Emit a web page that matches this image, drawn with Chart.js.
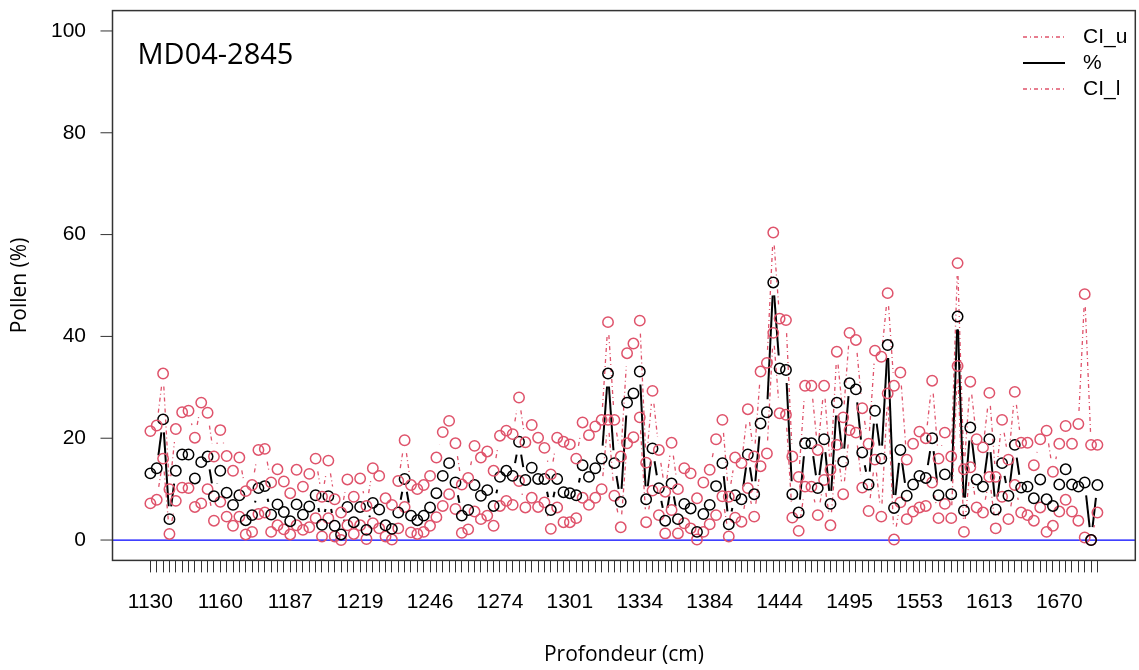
<!DOCTYPE html>
<html>
<head>
<meta charset="utf-8">
<script src="https://cdn.jsdelivr.net/npm/chart.js@4.4.1/dist/chart.umd.min.js"></script>
<style>
  html, body { margin: 0; padding: 0; overflow: hidden; background: #ffffff; }
  canvas { display: block; }
</style>
</head>
<body>
<canvas id="pollenChart" width="1142" height="670"></canvas>
<script>
// Core depth labels shown on the x axis (one every 11 samples)
const depthTicks = ['1130', '1160', '1187', '1219', '1246', '1274', '1301',
                    '1334', '1384', '1444', '1495', '1553', '1613', '1670'];
const tickEvery = 11;

// Pollen percentage per sample
const pct = [
  13.1, 14.1, 23.7, 4.1, 13.6, 16.8, 16.8, 12.1, 15.3, 16.4,
  8.6, 13.6, 9.3, 6.9, 8.8, 3.9, 4.9, 10.2, 10.6, 5.0,
  7.0, 5.5, 3.7, 7.0, 5.0, 6.6, 8.8, 3.0, 8.6, 2.8,
  1.1, 6.5, 3.5, 6.5, 2.0, 7.3, 6.0, 2.9, 2.2, 5.4,
  12.0, 4.8, 3.9, 4.8, 6.4, 9.2, 12.6, 15.1, 11.3, 4.8,
  5.9, 10.8, 8.7, 9.8, 6.7, 12.4, 13.6, 12.6, 19.3, 11.8,
  14.2, 12.0, 12.0, 5.9, 12.0, 9.4, 9.2, 8.8, 14.7, 12.4,
  14.1, 16.0, 32.7, 15.1, 7.5, 27.0, 28.8, 33.1, 8.0, 18.0,
  10.2, 3.8, 11.1, 4.1, 7.1, 6.2, 1.6, 5.1, 6.9, 10.6,
  15.1, 3.1, 8.8, 8.0, 16.8, 9.0, 22.9, 25.1, 50.6, 33.7,
  33.4, 9.0, 5.4, 19.0, 19.0, 10.2, 19.8, 7.1, 27.0, 15.4,
  30.8, 29.6, 17.2, 10.9, 25.4, 16.0, 38.3, 6.3, 17.7, 8.7,
  10.9, 12.6, 12.2, 20.0, 8.8, 12.9, 9.0, 43.9, 5.8, 22.1,
  11.9, 10.5, 19.8, 6.0, 15.1, 8.7, 18.7, 10.3, 10.5, 8.2,
  11.9, 8.0, 6.7, 10.9, 13.9, 10.9, 10.5, 11.3, 0.0, 10.8
];

// Upper confidence limit
const ciUpper = [
  21.4, 22.5, 32.7, 10.0, 21.8, 25.1, 25.4, 20.1, 27.0, 25.0,
  16.4, 21.6, 16.5, 13.6, 16.2, 9.6, 10.8, 17.7, 17.9, 11.3,
  13.9, 11.5, 9.2, 13.8, 10.5, 13.0, 16.0, 8.5, 15.6, 8.0,
  5.4, 11.9, 8.5, 12.1, 6.7, 14.1, 12.6, 8.2, 6.9, 11.6,
  19.6, 10.8, 10.0, 10.8, 12.6, 16.2, 21.2, 23.4, 19.0, 10.9,
  12.2, 18.5, 16.2, 17.4, 13.6, 20.5, 21.5, 20.8, 28.0, 19.2,
  22.6, 20.1, 18.1, 12.9, 20.1, 19.3, 18.8, 16.0, 23.1, 20.6,
  22.3, 23.6, 42.8, 23.6, 16.4, 36.7, 38.6, 43.1, 15.2, 29.3,
  17.7, 9.5, 19.1, 10.0, 14.1, 13.1, 8.2, 11.3, 13.8, 19.8,
  23.6, 8.5, 16.2, 15.1, 25.7, 16.4, 33.1, 34.8, 60.4, 43.5,
  43.2, 16.4, 12.4, 30.3, 30.3, 17.7, 30.3, 13.8, 37.0, 24.1,
  40.7, 39.3, 25.9, 18.9, 37.2, 36.0, 48.5, 30.3, 32.9, 15.8,
  18.9, 21.3, 20.0, 31.3, 16.0, 21.1, 16.4, 54.4, 13.9, 31.1,
  19.8, 18.2, 28.9, 12.4, 23.6, 15.8, 29.1, 19.1, 19.1, 14.7,
  19.8, 21.5, 13.4, 18.9, 22.4, 18.9, 22.8, 48.3, 18.7, 18.7
];

// Lower confidence limit
const ciLower = [
  7.2, 7.9, 16.0, 1.2, 7.7, 10.3, 10.2, 6.5, 7.2, 10.0,
  3.8, 7.5, 4.6, 2.8, 4.6, 1.1, 1.6, 5.1, 5.4, 1.6,
  2.9, 2.1, 1.1, 2.9, 2.0, 2.5, 4.3, 0.7, 4.3, 0.7,
  0.0, 2.9, 1.2, 2.9, 0.2, 3.3, 2.3, 0.7, 0.1, 2.3,
  6.5, 1.5, 1.2, 1.6, 2.8, 4.5, 6.7, 9.0, 6.1, 1.4,
  2.1, 5.6, 4.1, 4.8, 2.8, 6.7, 7.7, 6.9, 11.6, 6.4,
  8.3, 6.5, 7.4, 2.2, 6.4, 3.5, 3.5, 4.3, 8.3, 6.9,
  8.3, 10.0, 23.6, 8.7, 2.5, 19.0, 20.2, 24.1, 3.5, 9.7,
  4.9, 1.3, 5.9, 1.3, 3.3, 2.3, 0.1, 1.6, 3.1, 4.9,
  8.6, 0.7, 4.4, 3.6, 10.2, 4.6, 14.5, 17.0, 40.7, 24.9,
  24.6, 4.4, 1.8, 10.5, 10.5, 4.9, 11.8, 2.9, 18.7, 9.0,
  21.6, 21.1, 10.3, 5.7, 15.8, 4.6, 28.8, 0.1, 7.4, 4.1,
  5.6, 6.4, 6.7, 11.3, 4.3, 7.1, 4.3, 34.2, 1.6, 14.3,
  6.4, 5.4, 12.4, 2.3, 8.5, 4.1, 10.8, 5.4, 4.9, 3.8,
  6.4, 1.6, 2.8, 5.6, 7.9, 5.6, 3.8, 0.5, 0.0, 5.4
];

// Percent axis tick labels
const yTicks = [0, 20, 40, 60, 80, 100];

const RED = '#DF536B';
const BLACK = '#000000';
const TICK_FONT = "'Liberation Sans', Arial, sans-serif";
const TITLE_FONT = "'Open Sans', 'Liberation Sans', sans-serif";

const n = pct.length;
const xPad = 0.04 * (n - 1);
const toPoints = arr => arr.map((v, i) => ({ x: i + 1, y: v }));

// Series drawn as R-style "b" lines: segments stop short of each marker
const seriesStyle = [
  { label: 'CI_u', color: RED, width: 1.3, dash: [4, 3, 1, 3] },
  { label: '%', color: BLACK, width: 2, dash: [] },
  { label: 'CI_l', color: RED, width: 1.3, dash: [4, 3, 1, 3] }
];
const LINE_GAP = 13;

function drawGapped(ctx, pts, style) {
  ctx.save();
  ctx.strokeStyle = style.color;
  ctx.lineWidth = style.width;
  ctx.lineCap = 'butt';
  for (let i = 0; i < pts.length - 1; i++) {
    const a = pts[i], b = pts[i + 1];
    const dx = b.x - a.x, dy = b.y - a.y;
    const len = Math.hypot(dx, dy);
    if (len <= 2 * LINE_GAP) continue;
    const ux = dx / len, uy = dy / len;
    ctx.setLineDash(style.dash);
    ctx.beginPath();
    ctx.moveTo(a.x + ux * LINE_GAP, a.y + uy * LINE_GAP);
    ctx.lineTo(b.x - ux * LINE_GAP, b.y - uy * LINE_GAP);
    ctx.stroke();
  }
  ctx.restore();
}

const framePlugin = {
  id: 'frame',
  beforeDatasetsDraw(chart) {
    const { ctx, chartArea: ca, scales } = chart;
    // zero reference line
    const y0 = scales.y.getPixelForValue(0);
    ctx.save();
    ctx.strokeStyle = '#0000FF';
    ctx.lineWidth = 1.2;
    ctx.beginPath();
    ctx.moveTo(ca.left, y0);
    ctx.lineTo(ca.right, y0);
    ctx.stroke();
    ctx.restore();
    // connecting segments
    chart.data.datasets.forEach((ds, di) => {
      const meta = chart.getDatasetMeta(di);
      const pts = meta.data.map(p => ({ x: p.x, y: p.y }));
      drawGapped(ctx, pts, seriesStyle[di]);
    });
  },
  afterDraw(chart) {
    const { ctx, chartArea: ca, scales } = chart;
    ctx.save();
    // plot box
    ctx.strokeStyle = '#333333';
    ctx.lineWidth = 1.5;
    ctx.setLineDash([]);
    ctx.strokeRect(ca.left, ca.top, ca.right - ca.left, ca.bottom - ca.top);

    // percent axis: tick marks and labels
    ctx.lineWidth = 1;
    ctx.fillStyle = '#000000';
    ctx.font = "21px " + TICK_FONT;
    ctx.textAlign = 'right';
    ctx.textBaseline = 'middle';
    yTicks.forEach(v => {
      const py = scales.y.getPixelForValue(v);
      ctx.beginPath();
      ctx.moveTo(ca.left - 12, py);
      ctx.lineTo(ca.left, py);
      ctx.stroke();
      ctx.fillText(String(v), ca.left - 26.5, py);
    });

    // core name
    ctx.font = "29px " + TITLE_FONT;
    ctx.textAlign = 'left';
    ctx.textBaseline = 'alphabetic';
    ctx.fillText('MD04-2845', ca.left + 25, 64);

    // legend
    const legendRows = [37, 63, 89];
    ctx.font = "21px " + TICK_FONT;
    ctx.textBaseline = 'middle';
    seriesStyle.forEach((s, i) => {
      const y = legendRows[i];
      ctx.strokeStyle = s.color;
      ctx.lineWidth = s.width;
      ctx.setLineDash(s.dash);
      ctx.beginPath();
      ctx.moveTo(1023, y);
      ctx.lineTo(1065, y);
      ctx.stroke();
      ctx.fillStyle = '#000000';
      ctx.fillText(s.label, 1083, y);
    });
    ctx.restore();
  }
};

const pointStyleFor = color => ({
  showLine: false,
  pointStyle: 'circle',
  pointRadius: 5.2,
  pointHoverRadius: 5.2,
  pointBorderWidth: 1.5,
  pointBorderColor: color,
  pointBackgroundColor: 'rgba(0,0,0,0)',
  borderColor: color,
  clip: false
});

new Chart(document.getElementById('pollenChart'), {
  type: 'line',
  data: {
    datasets: [
      Object.assign({ label: 'CI_u', data: toPoints(ciUpper) }, pointStyleFor(RED)),
      Object.assign({ label: '%', data: toPoints(pct) }, pointStyleFor(BLACK)),
      Object.assign({ label: 'CI_l', data: toPoints(ciLower) }, pointStyleFor(RED))
    ]
  },
  options: {
    responsive: false,
    animation: false,
    events: [],
    layout: { padding: { top: 10.6, right: 2, left: 0, bottom: 0 } },
    plugins: { legend: { display: false }, tooltip: { enabled: false } },
    scales: {
      x: {
        type: 'linear',
        min: 1 - xPad,
        max: n + xPad,
        afterBuildTicks(scale) {
          scale.ticks = pct.map((_, i) => ({ value: i + 1 }));
        },
        afterFit(scale) {
          scale.height = 109.6;
          scale.paddingLeft = 0;
          scale.paddingRight = 0;
        },
        border: { display: false },
        grid: {
          display: true,
          drawOnChartArea: false,
          drawTicks: true,
          tickLength: 12,
          tickColor: '#333333',
          tickWidth: 1
        },
        ticks: {
          autoSkip: false,
          maxRotation: 0,
          minRotation: 0,
          padding: 17,
          color: '#000000',
          font: { family: TICK_FONT, size: 21 },
          callback(value, index) {
            return index % tickEvery === 0 ? (depthTicks[index / tickEvery] || '') : '';
          }
        },
        title: {
          display: true,
          text: 'Profondeur (cm)',
          color: '#000000',
          font: { family: TITLE_FONT, size: 21 },
          padding: { top: 0, bottom: 2.4 }
        }
      },
      y: {
        type: 'linear',
        min: -4,
        max: 104,
        afterBuildTicks(scale) {
          scale.ticks = yTicks.map(v => ({ value: v }));
        },
        afterFit(scale) {
          scale.width = 112.5;
          scale.paddingTop = 0;
          scale.paddingBottom = 0;
        },
        border: { display: false },
        grid: { display: false },
        ticks: { display: false },
        title: {
          display: true,
          text: 'Pollen (%)',
          color: '#000000',
          font: { family: TITLE_FONT, size: 21 },
          padding: { top: 7.4, bottom: 0 }
        }
      }
    }
  },
  plugins: [framePlugin]
});
</script>
</body>
</html>
